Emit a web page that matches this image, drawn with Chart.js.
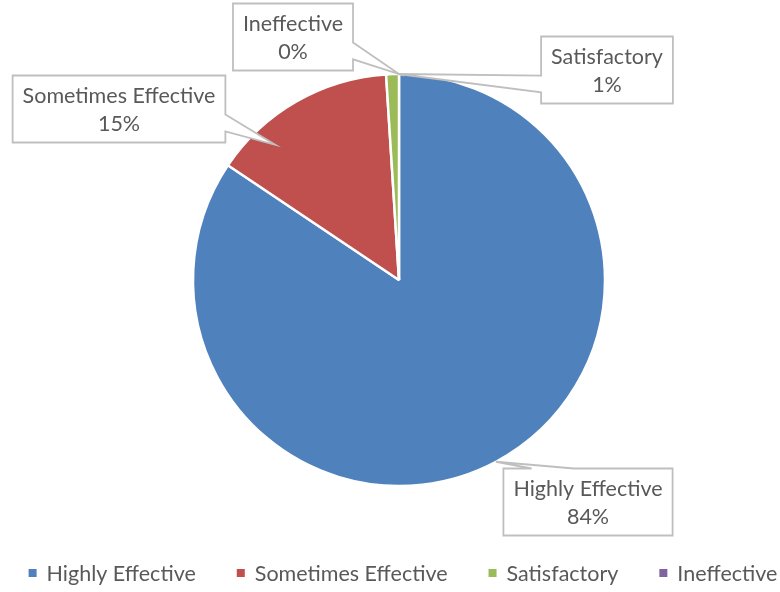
<!DOCTYPE html>
<html>
<head>
<meta charset="utf-8">
<title>Effectiveness</title>
<script src="https://cdn.jsdelivr.net/npm/chart.js@4"></script>
<style>
	html, body { margin: 0; padding: 0; background: #fff; }
	#wrap { width: 780px; height: 592px; }
</style>
</head>
<body>
<div id="wrap"><canvas id="effectChart"></canvas></div>
<script>
const categories = ["Highly Effective", "Sometimes Effective", "Satisfactory", "Ineffective"];
const shares = [84.4, 14.6, 1.0, 0.0];
const sliceColors = ["#4F81BD", "#C0504D", "#9BBB59", "#8064A2"];

const FONT = "Lato, 'Open Sans', sans-serif";
const FONT_SIZE = 21.5;
const TEXT_COLOR = "#595959";
const LINE_COLOR = "#BFBFBF";

// callout box centres relative to the pie centre; tip sits "along" the slice at "reach" of the radius
const callouts = [
	{ dx: 189, dy: 222, along: 0.5, reach: 1.0 },
	{ dx: -280, dy: -171, along: 0.26, reach: 0.89 },
	{ dx: 208, dy: -210, along: 0.9, reach: 1.0 },
	{ dx: -106, dy: -243, along: 0.5, reach: 1.0 },
];

function percentText(i) {
	const total = shares.reduce((a, b) => a + b, 0);
	return Math.round((shares[i] / total) * 100) + "%";
}

function wedgeSpan(before) {
	return before ? [2 / 12, 5 / 12] : [7 / 12, 10 / 12];
}

function drawCallout(ctx, box, tip) {
	const { x, y, w, h } = box;
	const cx = x + w / 2;
	const cy = y + h / 2;
	const nx = (tip.x - cx) / w;
	const ny = (tip.y - cy) / h;
	const horiz = Math.abs(ny) >= Math.abs(nx);
	const side = horiz ? (ny < 0 ? "top" : "bottom") : (nx > 0 ? "right" : "left");

	ctx.beginPath();
	ctx.moveTo(x, y);
	if (side === "top") {
		const a = wedgeSpan(tip.x < cx);
		ctx.lineTo(x + w * a[0], y);
		ctx.lineTo(tip.x, tip.y);
		ctx.lineTo(x + w * a[1], y);
	}
	ctx.lineTo(x + w, y);
	if (side === "right") {
		const a = wedgeSpan(tip.y < cy);
		ctx.lineTo(x + w, y + h * a[0]);
		ctx.lineTo(tip.x, tip.y);
		ctx.lineTo(x + w, y + h * a[1]);
	}
	ctx.lineTo(x + w, y + h);
	if (side === "bottom") {
		const a = wedgeSpan(tip.x < cx);
		ctx.lineTo(x + w * a[1], y + h);
		ctx.lineTo(tip.x, tip.y);
		ctx.lineTo(x + w * a[0], y + h);
	}
	ctx.lineTo(x, y + h);
	if (side === "left") {
		const a = wedgeSpan(tip.y < cy);
		ctx.lineTo(x, y + h * a[1]);
		ctx.lineTo(tip.x, tip.y);
		ctx.lineTo(x, y + h * a[0]);
	}
	ctx.closePath();
	ctx.fillStyle = "#ffffff";
	ctx.fill();
	ctx.strokeStyle = LINE_COLOR;
	ctx.lineWidth = 1.8;
	ctx.lineJoin = "miter";
	ctx.stroke();
}

const calloutPlugin = {
	id: "callouts",
	afterDatasetsDraw(chart) {
		const ctx = chart.ctx;
		const arcs = chart.getDatasetMeta(0).data;
		ctx.save();
		ctx.font = FONT_SIZE + "px " + FONT;
		arcs.forEach((arc, i) => {
			const c = callouts[i];
			const p = arc.getProps(["x", "y", "startAngle", "endAngle", "outerRadius"], true);
			const ang = p.startAngle + (p.endAngle - p.startAngle) * c.along;
			const tip = {
				x: p.x + Math.cos(ang) * p.outerRadius * c.reach,
				y: p.y + Math.sin(ang) * p.outerRadius * c.reach,
			};
			const lines = [categories[i], percentText(i)];
			const w = Math.max(...lines.map((t) => ctx.measureText(t).width)) + 20;
			const h = 67;
			const box = { x: p.x + c.dx - w / 2, y: p.y + c.dy - h / 2, w: w, h: h };
			drawCallout(ctx, box, tip);
			ctx.fillStyle = TEXT_COLOR;
			ctx.textAlign = "center";
			ctx.textBaseline = "middle";
			ctx.fillText(lines[0], p.x + c.dx, p.y + c.dy - 13);
			ctx.fillText(lines[1], p.x + c.dx, p.y + c.dy + 15);
		});
		ctx.restore();
	},
	afterDraw(chart) {
		// legend row under the pie
		const ctx = chart.ctx;
		const arc = chart.getDatasetMeta(0).data[0];
		ctx.save();
		ctx.font = FONT_SIZE + "px " + FONT;
		const box = 8, gap = 10, itemGap = 41;
		const widths = categories.map((t) => box + gap + ctx.measureText(t).width);
		const total = widths.reduce((a, b) => a + b, 0) + itemGap * (categories.length - 1);
		let x = arc.x + 4 - total / 2;
		const y = chart.height - 19;
		categories.forEach((t, i) => {
			ctx.fillStyle = sliceColors[i];
			ctx.fillRect(x, y - box / 2, box, box);
			ctx.fillStyle = TEXT_COLOR;
			ctx.textAlign = "left";
			ctx.textBaseline = "middle";
			ctx.fillText(t, x + box + gap, y + 1);
			x += widths[i] + itemGap;
		});
		ctx.restore();
	},
};

const chart = new Chart(document.getElementById("effectChart"), {
	type: "pie",
	data: {
		labels: categories,
		datasets: [
			{
				data: shares,
				backgroundColor: sliceColors,
				borderColor: "#ffffff",
				borderWidth: 2.5,
				hoverOffset: 0,
				offset: 0,
			},
		],
	},
	options: {
		responsive: true,
		maintainAspectRatio: false,
		animation: false,
		radius: 206,
		layout: {
			padding: { left: 18, right: 0, top: 60, bottom: 92 },
		},
		plugins: {
			legend: { display: false },
			tooltip: { enabled: false },
		},
	},
	plugins: [calloutPlugin],
});
</script>
</body>
</html>
